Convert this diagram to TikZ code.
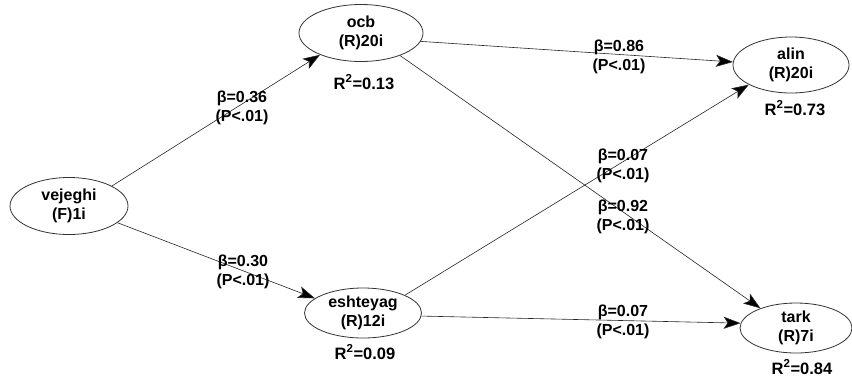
\documentclass[tikz,border=0pt]{standalone}
\usepackage{fontspec}
\setmainfont{Liberation Sans}
\usetikzlibrary{shapes.geometric,arrows.meta}
\begin{document}
\begin{tikzpicture}[x=1pt,y=-1pt,
  lv/.style={ellipse,draw=black!80,line width=0.8pt,inner sep=0pt,align=center,
    font=\bfseries\fontsize{16}{19}\selectfont},
  coef/.style={align=center,inner sep=0pt,font=\bfseries\fontsize{16}{19.5}\selectfont},
  rsq/.style={inner sep=0pt,font=\bfseries\fontsize{16.5}{19}\selectfont},
  path/.style={draw=black!85,line width=0.6pt,-{Stealth[length=17pt,width=12pt,inset=4pt,fill=black]}}]
\fill[white] (0,0) rectangle (852,376);
\useasboundingbox (0,0) rectangle (852,376);
\node[lv,minimum width=118,minimum height=57] (vej) at (69,206) {vejeghi\\(F)1i};
\node[lv,minimum width=124,minimum height=57] (ocb) at (361,33) {ocb\\(R)20i};
\node[lv,minimum width=117,minimum height=50] (esh) at (363,313) {eshteyag\\(R)12i};
\node[lv,minimum width=116,minimum height=56] (alin) at (791,65) {alin\\(R)20i};
\node[lv,minimum width=112,minimum height=50] (tark) at (796,328) {tark\\(R)7i};
\path[path] (vej.25) -- (ocb.208);
\path[path] (vej.-19) -- (esh.163);
\path[path] (ocb.-8) -- (alin.177);
\path[path] (ocb.-30) -- (tark.151);
\path[path] (esh.23) -- (alin.205);
\path[path] (esh.-3) -- (tark.175);
\node[rsq] (r1) at (364,82) {R\textsuperscript{2}=0.13};
\node[rsq] (r2) at (365,352) {R\textsuperscript{2}=0.09};
\node[rsq] (r3) at (795,108) {R\textsuperscript{2}=0.73};
\node[rsq] (r4) at (802,367) {R\textsuperscript{2}=0.84};
\node[coef] (c1) at (242,108) {β=0.36\\(P<.01)};
\node[coef] (c2) at (243,272) {β=0.30\\(P<.01)};
\node[coef] (c3) at (619,57) {β=0.86\\(P<.01)};
\node[coef] (c4) at (623,166) {β=0.07\\(P<.01)};
\node[coef] (c5) at (623,217) {β=0.92\\(P<.01)};
\node[coef] (c6) at (623,322) {β=0.07\\(P<.01)};
\end{tikzpicture}
\end{document}
